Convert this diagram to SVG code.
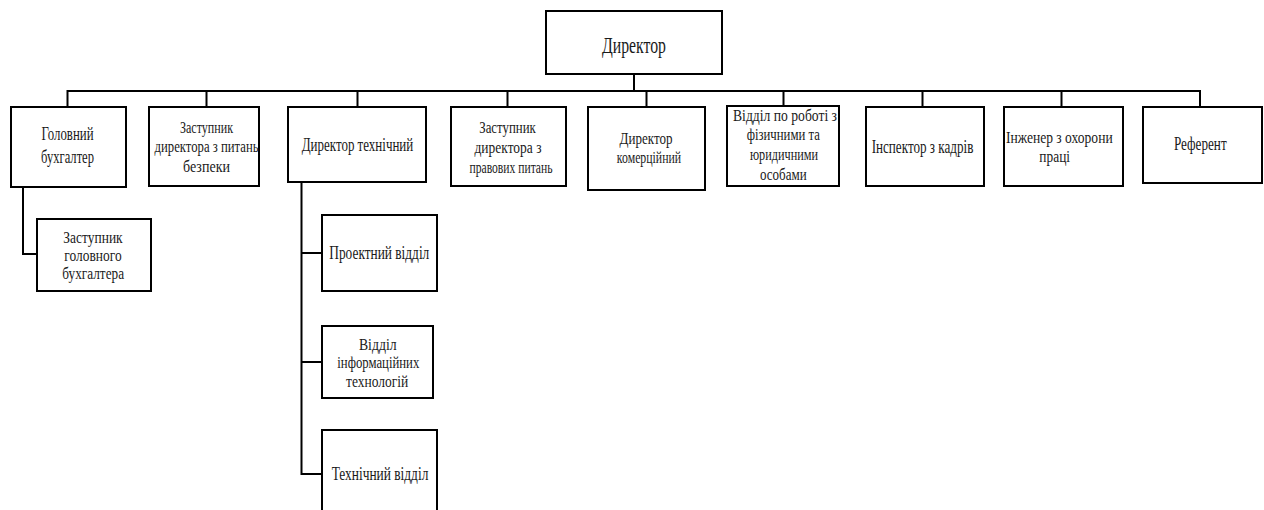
<svg xmlns="http://www.w3.org/2000/svg" width="1264" height="510" viewBox="0 0 1264 510">
<style>
.box{fill:#fff;stroke:#000;stroke-width:2}
.ln{fill:none;stroke:#000;stroke-width:2}
text{fill:#1a1a1a;text-anchor:middle}
.f15{font-size:16.5px}.f16{font-size:17.5px}.f17{font-size:19px}.f18{font-size:17.5px}.f21{font-size:23px}
</style>
<rect width="1264" height="510" fill="#fff"/>
<g id="connectors">
<path class="ln" d="M634 74V91M67.5 91H1200.5M67.5 90V107M206.5 91V107M357.5 91V107M507.5 91V107M646.5 91V107M783.5 91V107M922.5 91V107M1061.5 91V107M1200 90V107"/>
<path class="ln" d="M23 187V254H37"/>
<path class="ln" d="M301.5 182V474H322M301.5 253H322M301.5 362H322"/>
</g>
<g font-family="'Liberation Serif', 'DejaVu Serif', serif">
<g id="n-director"><rect class="box" x="546" y="11" width="176" height="63"/><text class="f21" x="634" y="52.5" textLength="64" lengthAdjust="spacingAndGlyphs">Директор</text></g>
<g id="n-chief-accountant"><rect class="box" x="11" y="107" width="115" height="80"/><text class="f17" x="67.5" y="140" textLength="52" lengthAdjust="spacingAndGlyphs">Головний</text><text class="f17" x="67.5" y="163" textLength="53" lengthAdjust="spacingAndGlyphs">бухгалтер</text></g>
<g id="n-deputy-security"><rect class="box" x="149" y="107" width="110" height="79"/><text class="f15" x="206.5" y="133" textLength="53" lengthAdjust="spacingAndGlyphs">Заступник</text><text class="f15" x="206.5" y="152" textLength="104" lengthAdjust="spacingAndGlyphs">директора з питань</text><text class="f15" x="206.5" y="171.5" textLength="47" lengthAdjust="spacingAndGlyphs">безпеки</text></g>
<g id="n-tech-director"><rect class="box" x="288" y="107" width="138" height="75"/><text class="f17" x="357.5" y="150.5" textLength="111.5" lengthAdjust="spacingAndGlyphs">Директор технічний</text></g>
<g id="n-deputy-legal"><rect class="box" x="451" y="107" width="115" height="79"/><text class="f16" x="507.5" y="133.3" textLength="56.5" lengthAdjust="spacingAndGlyphs">Заступник</text><text class="f16" x="508" y="153" textLength="67" lengthAdjust="spacingAndGlyphs">директора з</text><text class="f16" x="511" y="173" textLength="83" lengthAdjust="spacingAndGlyphs">правових питань</text></g>
<g id="n-commercial"><rect class="box" x="588" y="107" width="117" height="83"/><text class="f16" x="646" y="144" textLength="53" lengthAdjust="spacingAndGlyphs">Директор</text><text class="f16" x="649" y="163.3" textLength="64.3" lengthAdjust="spacingAndGlyphs">комерційний</text></g>
<g id="n-clients-dept"><rect class="box" x="727" y="106" width="112" height="80"/><text class="f15" x="785" y="120.5" textLength="104" lengthAdjust="spacingAndGlyphs">Відділ по роботі з</text><text class="f15" x="783.3" y="140" textLength="73.3" lengthAdjust="spacingAndGlyphs">фізичними  та</text><text class="f15" x="784" y="159.5" textLength="68" lengthAdjust="spacingAndGlyphs">юридичними</text><text class="f15" x="783.3" y="179.5" textLength="46.7" lengthAdjust="spacingAndGlyphs">особами</text></g>
<g id="n-hr-inspector"><rect class="box" x="866" y="107" width="118" height="79"/><text class="f17" x="922.5" y="153.3" textLength="101.7" lengthAdjust="spacingAndGlyphs">Інспектор з кадрів</text></g>
<g id="n-safety-engineer"><rect class="box" x="1004" y="107" width="119" height="79"/><text class="f18" x="1059.3" y="142.5" textLength="106.7" lengthAdjust="spacingAndGlyphs">Інженер з охорони</text><text class="f18" x="1054.7" y="162" textLength="30.7" lengthAdjust="spacingAndGlyphs">праці</text></g>
<g id="n-referent"><rect class="box" x="1143" y="107" width="119" height="76"/><text class="f17" x="1200.3" y="150" textLength="52.7" lengthAdjust="spacingAndGlyphs">Референт</text></g>
<g id="n-deputy-accountant"><rect class="box" x="37" y="219" width="114" height="72"/><text class="f16" x="93" y="243" textLength="59.3" lengthAdjust="spacingAndGlyphs">Заступник</text><text class="f16" x="93" y="261" textLength="57.3" lengthAdjust="spacingAndGlyphs">головного</text><text class="f16" x="93.2" y="278.5" textLength="61.7" lengthAdjust="spacingAndGlyphs">бухгалтера</text></g>
<g id="n-project-dept"><rect class="box" x="322" y="215" width="115" height="76"/><text class="f17" x="379.3" y="259.3" textLength="100" lengthAdjust="spacingAndGlyphs">Проектний  відділ</text></g>
<g id="n-it-dept"><rect class="box" x="322" y="326" width="111" height="72"/><text class="f16" x="377.8" y="350" textLength="37.7" lengthAdjust="spacingAndGlyphs">Відділ</text><text class="f16" x="378.3" y="368.3" textLength="82" lengthAdjust="spacingAndGlyphs">інформаційних</text><text class="f16" x="377.2" y="386.7" textLength="62.3" lengthAdjust="spacingAndGlyphs">технологій</text></g>
<g id="n-tech-dept"><rect class="box" x="322" y="430" width="115" height="92"/><text class="f17" x="380" y="480" textLength="96.7" lengthAdjust="spacingAndGlyphs">Технічний  відділ</text></g>
</g>
</svg>
